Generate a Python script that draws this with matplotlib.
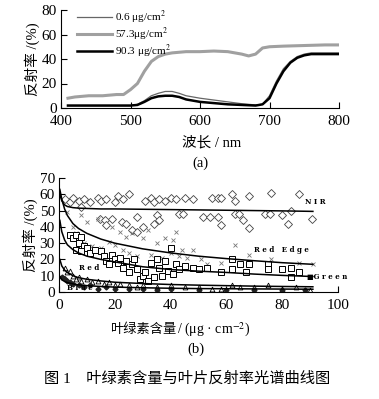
import numpy as np
import matplotlib
matplotlib.use('Agg')
import matplotlib.pyplot as plt

plt.rcParams['font.family'] = ['Liberation Serif', 'Noto Sans CJK SC']
plt.rcParams['mathtext.fontset'] = 'stix'

# --- (a) reflectance spectra ---
wl_top = [410, 420, 440, 460, 480, 490, 500, 510, 520, 530, 540, 550, 560, 580,
          600, 620, 640, 660, 670, 680, 690, 700, 720, 750, 780, 800]
refl_57 = [8, 9, 10, 10, 11, 11, 15, 20, 30, 38, 42, 44, 45, 46,
           46, 46.5, 46, 44, 42.5, 44, 49, 50, 50.5, 51, 51.5, 51.5]

wl_low = [410, 500, 510, 520, 530, 540, 550, 560, 570, 580, 600, 620, 640, 660,
          680, 690, 700, 710, 720, 730, 740, 750, 760, 800]
refl_06 = [2, 2, 3, 6, 10, 12, 13.5, 13.5, 12, 10, 8, 6.5, 5, 3.5,
           2.5, 3, 10, 22, 32, 38, 42, 44, 45, 45]
refl_90 = [2, 2, 2.5, 5, 8, 9.5, 10, 10, 9, 7, 5, 4, 3, 2.5,
           2, 3, 8, 20, 30, 37, 41, 43, 44, 44]
legend_a = ['0.6 μg/cm$^2$', '57.3μg/cm$^2$', '90.3 μg/cm$^2$']

# --- (b) reflectance vs chlorophyll content ---
nir_x = [2, 4, 5, 7, 9, 11, 14, 15, 17, 20, 21, 23, 25, 31, 33, 34, 36, 38, 40, 42, 45,
         48, 55, 57, 58, 62, 63, 68, 76, 86,
         8, 14.7, 16.5, 17, 19, 22.6, 24, 26, 28, 28, 30, 34, 35, 36, 43, 44.6,
         51.6, 54, 57, 58, 63, 64.5, 66, 68, 74, 75.6, 80, 82, 83, 90.6]
nir_y = [57, 55, 58, 56, 57, 55, 58, 56, 57, 55, 59, 57, 60, 56, 58, 55, 57, 56, 58, 57, 58,
         57, 58, 58, 58, 60, 56, 59, 61, 60,
         52, 45, 44, 41, 45, 43, 42, 38, 46, 37, 40, 42, 47, 44, 48, 48,
         46, 46, 46, 41, 48, 48, 44, 39, 48, 48, 47, 42, 50, 45]

re_x = [3, 8, 10, 14, 19, 22, 24, 26, 30, 32, 35, 38, 42, 41, 44, 48, 46, 51, 53, 58,
        63, 68, 76, 86, 91, 5, 6, 7, 9, 12, 15, 18, 20, 23, 25, 28, 33, 37, 40, 43]
re_y = [49, 47, 43, 45, 40, 37, 34, 36, 33, 38, 30, 33, 37, 32, 26, 26, 21, 20, 17, 18,
        29, 23, 20, 18, 17, 40, 36, 33, 30, 28, 27, 31, 29, 26, 24, 22, 23, 21, 24, 22]

gr_x = [4, 5, 6, 7, 8, 9, 6, 8, 10, 11, 13, 15, 16, 17, 18, 19, 20, 21, 22, 23, 24, 25,
        26, 27, 28, 29, 30, 31, 32, 33, 34, 35, 36, 37, 38, 39, 40, 41, 42, 43, 45, 48,
        50, 53, 58, 62, 65, 68, 62, 67, 75, 75, 80, 83, 83, 86]
gr_y = [35, 33, 35, 30, 34, 28, 26, 25, 27, 24, 26, 25, 22, 19, 17, 23, 20, 18, 21, 15,
        19, 12, 17, 20, 14, 8, 10, 12, 7, 18, 9, 20, 15, 10, 19, 13, 27, 11, 17, 14, 16, 15,
        14, 15, 12, 20, 17, 17, 14, 12, 17, 14, 14, 15, 9, 12]

red_x = [2, 3, 4, 5, 6, 7, 8, 10, 12, 14, 16, 18, 20, 22, 25, 28, 30, 35, 40, 45, 50,
         55, 58, 62, 65, 70, 75, 80, 85, 90]
red_y = [15, 12, 13, 10, 8, 9, 7, 8, 6, 7, 5, 6, 4, 5, 4, 3, 4, 3, 4, 3, 3,
         2, 2, 4, 3, 3, 4, 2, 3, 1]

blue_x = [1, 2, 3, 4, 5, 7, 9, 11, 14, 17, 20, 25, 30, 35, 40, 50, 60, 70, 80, 88]
blue_y = [9, 8, 7, 6, 5, 4, 3, 4, 2, 3, 2, 2, 2, 1, 2, 1, 1, 1, 1, 1]

fit_x = [0.3, 1, 2, 3, 5, 7, 10, 15, 20, 30, 40, 50, 60, 70, 80, 91]
fit_nir = [60, 56, 53.5, 52.5, 51.8, 51.5, 51.3, 51, 51, 50.8, 50.6, 50.4, 50.2, 50, 49.8, 49.5]
fit_re = [63, 57, 51, 47, 42, 39, 36, 32.5, 30, 26.5, 24, 22, 20.5, 19.2, 18, 17]
fit_gr = [44, 37, 32, 29, 26, 24, 22, 20, 18.5, 15.5, 13.8, 12.8, 12, 11, 10.2, 9.5]
fit_red = [20, 16, 13.5, 12, 10, 8.8, 7.8, 6.8, 6, 5.2, 4.6, 4.2, 3.9, 3.6, 3.4, 3.2]
fit_blue = [9.5, 7.5, 6.5, 5.8, 5, 4.4, 3.9, 3.4, 3, 2.6, 2.3, 2.1, 2, 1.9, 1.8, 1.7]

band_labels = ['N I R', 'R e d   E d g e', '■G r e e n', 'R e d', 'B l u e']
band_label_pos = [(88, 55), (70, 26), (89, 9), (7, 15), (3, 2.5)]

fig = plt.figure(figsize=(3.79, 3.99), dpi=100)
W, H = 379, 399


def px_axes(l, r, t, b):
    return fig.add_axes([l / W, 1 - b / H, (r - l) / W, (b - t) / H])


def style(ax):
    ax.spines['top'].set_visible(False)
    ax.spines['right'].set_visible(False)
    ax.tick_params(direction='in', length=4, width=0.8, labelsize=11)
    ax.tick_params(axis='x', pad=5)
    ax.tick_params(axis='y', pad=3)


# panel (a)
ax1 = px_axes(61, 339, 10, 108)
ax1.plot(wl_low, refl_06, color='#666666', lw=0.9, label=legend_a[0])
ax1.plot(wl_top, refl_57, color='#a0a0a0', lw=2.2, label=legend_a[1])
ax1.plot(wl_low, refl_90, color='black', lw=1.8, label=legend_a[2])
ax1.set_xlim(400, 800)
ax1.set_ylim(0, 80)
ax1.set_xticks([400, 500, 600, 700, 800])
ax1.set_yticks([0, 20, 40, 60, 80])
style(ax1)
ax1.legend(loc='upper left', bbox_to_anchor=(0.04, 1.06), frameon=False,
           fontsize=8, handlelength=3.2, handletextpad=0.3, labelspacing=0.0,
           borderaxespad=0)
ax1.set_ylabel('反射率 /(%)', fontsize=10.5, labelpad=1)

# panel (b)
ax2 = px_axes(59, 338, 178, 292)
ax2.plot(nir_x, nir_y, 'D', ms=3.6, mfc='white', mec='#444444', mew=0.6)
ax2.plot(re_x, re_y, 'x', ms=3.5, color='#777777', mew=0.6)
ax2.plot(gr_x, gr_y, 's', ms=4, mfc='white', mec='black', mew=0.7)
ax2.plot(red_x, red_y, '^', ms=3.5, mfc='white', mec='black', mew=0.6)
ax2.plot(blue_x, blue_y, 'D', ms=2.5, color='#222222')
for fy in [fit_nir, fit_re, fit_gr, fit_red, fit_blue]:
    ax2.plot(fit_x, fy, color='black', lw=1.1)
for lab, (lx, ly) in zip(band_labels, band_label_pos):
    ax2.text(lx, ly, lab, fontsize=5, fontweight='bold', va='center',
             ha='left', clip_on=False, family=['DejaVu Serif'])
ax2.set_xlim(0, 100)
ax2.set_ylim(0, 70)
ax2.set_xticks([0, 20, 40, 60, 80, 100])
ax2.set_yticks(range(0, 71, 10))
style(ax2)
ax2.set_ylabel('反射率 /(%)', fontsize=10.5, labelpad=1)

fig.text(212 / W, 1 - 143 / H, '波长 / nm', ha='center', va='center', fontsize=10.5)
fig.text(200 / W, 1 - 163 / H, '(a)', ha='center', va='center', fontsize=10.5)
fig.text(176 / W, 1 - 330 / H, '叶绿素含量', ha='right', va='center', fontsize=9.5)
fig.text(177 / W, 1 - 330 / H, '/ (μg · cm$^{-2}$)', ha='left', va='center',
         fontsize=10)
fig.text(196 / W, 1 - 349 / H, '(b)', ha='center', va='center', fontsize=10.5)
fig.text(187 / W, 1 - 378 / H, '图 1    叶绿素含量与叶片反射率光谱曲线图',
         ha='center', va='center', fontsize=11)

fig.savefig('out.png', dpi=100)
